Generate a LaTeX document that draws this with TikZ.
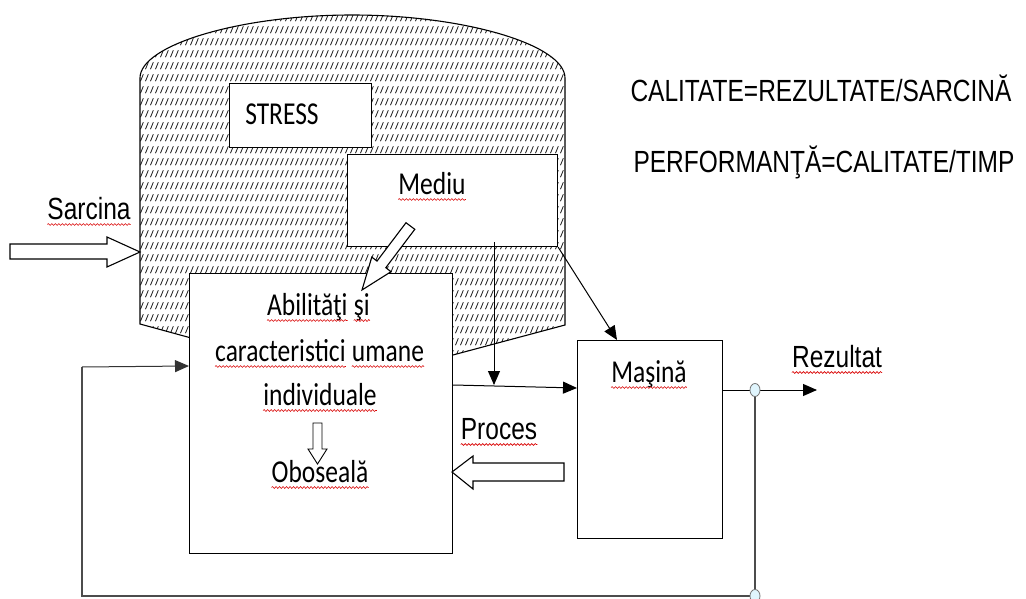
\documentclass[tikz,border=0pt]{standalone}
\usepackage{fontspec}
\setmainfont{Carlito}
\newfontfamily\arial{Liberation Sans}
\usetikzlibrary{arrows.meta,patterns.meta,decorations.pathmorphing}

% slightly tall lettering
\newcommand\tall[1]{\scalebox{1}[1.25]{#1}}

% rows of short slashes used as the stress hatching
\tikzdeclarepattern{
  name=slashrows,
  type=uncolored,
  bottom left={(0pt,0pt)},
  top right={(5pt,12pt)},
  tile size={(5pt,12pt)},
  code={\draw[line width=.95pt] (0.6pt,2pt) -- (4.0pt,9.5pt);}
}

\tikzset{
  box/.style={draw, fill=white, line width=1.1pt, inner sep=0pt, anchor=north west},
  cal/.style={inner sep=0pt, anchor=base, font=\fontsize{25.5}{30}\selectfont},
  ari/.style={inner sep=0pt, anchor=base, font=\arial\fontsize{24.5}{29}\selectfont},
  conn/.style={draw, line width=1pt, -{Triangle[length=14pt,width=12pt]}},
  fb/.style={draw=black!70, line width=1.3pt},
  hollow/.style={draw, fill=white, line width=1.1pt, line join=miter},
  junc/.style={draw=black!55, fill=cyan!12, line width=.8pt},
  squig/.style={draw=red!85!black, line width=.6pt, decorate,
    decoration={snake, amplitude=.9pt, segment length=3.5pt}},
}
% red wavy spell-check mark under a word node
\newcommand\spell[1]{\draw[squig] ([yshift=-5.5pt]#1.base west) -- ([yshift=-5.5pt]#1.base east);}

\begin{document}
\begin{tikzpicture}[x=1pt, y=-1pt]
\useasboundingbox (0,0) rectangle (1026,599);

% stress vessel
\draw[line width=1.1pt, pattern={slashrows}, pattern color=black!90]
  (140,324) -- (140,78)
  .. controls (140,45) and (240,15) .. (352,15)
  .. controls (465,15) and (565,45) .. (565,78)
  -- (565,325) -- (352,382) -- cycle;

% boxes
\node[box, minimum width=142pt, minimum height=64pt] (stress) at (229,83) {};
\node[box, minimum width=210pt, minimum height=92pt] (med) at (347,154) {};
\node[box, minimum width=263pt, minimum height=280pt] (abil) at (189,273) {};
\node[box, minimum width=145pt, minimum height=198pt] (mas) at (577,340) {};

% box texts
\node[cal] (tStress) at (282,125) {\tall{STRESS}};
\node[cal] (tMed) at (432,194) {\tall{Mediu}};
\node[cal, anchor=base west] (tAb1a) at (267,315) {\tall{Abilităţi}};
\node[cal, anchor=base west] (tAb1b) at ([xshift=6pt]tAb1a.base east) {\tall{şi}};
\node[cal, anchor=base west] (tAb2a) at (215,361) {\tall{caracteristici}};
\node[cal, anchor=base west] (tAb2b) at ([xshift=6pt]tAb2a.base east) {\tall{umane}};
\node[cal] (tAb3) at (320,405) {\tall{individuale}};
\node[cal] (tObo) at (320,482) {\tall{Oboseală}};
\node[cal] (tMas) at (649,382) {\tall{Maşină}};

% free labels
\node[ari] (tSarc) at (89,219) {\tall{Sarcina}};
\node[ari] (tProc) at (499,439) {\tall{Proces}};
\node[ari] (tRez) at (837,367) {\tall{Rezultat}};
\node[ari] (f1) at (821,102) {\tall{CALITATE=REZULTATE/SARCINĂ}};
\node[ari] (f2) at (824,172) {\tall{PERFORMANŢĂ=CALITATE/TIMP}};

% spell-check marks
\spell{tMed} \spell{tAb1a} \spell{tAb1b} \spell{tAb2a} \spell{tAb2b}
\spell{tAb3} \spell{tObo} \spell{tMas} \spell{tSarc} \spell{tProc} \spell{tRez}

% block arrows
\draw[hollow] (10,244) -- (107,244) -- (107,237) -- (140,252) -- (107,267)
  -- (107,259) -- (10,259) -- cycle;
\draw[hollow] (564,463) -- (473,463) -- (473,456) -- (452,472) -- (473,489)
  -- (473,481) -- (564,481) -- cycle;
\draw[hollow, line width=.9pt] (313,423) -- (322,423) -- (322,449) -- (327,449)
  -- (317.5,464) -- (308,449) -- (313,449) -- cycle;
\draw[hollow] (414.8,229.3) -- (385.8,267.7) -- (391,271.7) -- (362,290)
  -- (371.8,257.1) -- (377,261.1) -- (406,222.7) -- cycle;

% connectors
\coordinate (jn) at (494,385);
\coordinate (j1) at (755,390);
\coordinate (j2) at (755,596);
\coordinate (out) at (817,390);
\coordinate (c1) at (82,596);
\coordinate (c2) at (82,367);

\draw[conn] (abil.east |- 0,385) -- (mas.west |- 0,388);
\draw[conn] ([yshift=5pt]med.south -| jn) -- (jn);
\draw[conn] (med.south east) -- (mas.north -| 617,0);
\draw[conn] (mas.east |- j1) -- (out);
\draw[fb] (j1) -- (j2) -- (c1) -- (c2);
\draw[conn, draw=black!80] (c2) -- (abil.west |- 0,366);

% junction markers
\filldraw[junc] (j1) ellipse [x radius=5pt, y radius=6.5pt];
\filldraw[junc] (j2) ellipse [x radius=5pt, y radius=6.5pt];
\end{tikzpicture}
\end{document}
